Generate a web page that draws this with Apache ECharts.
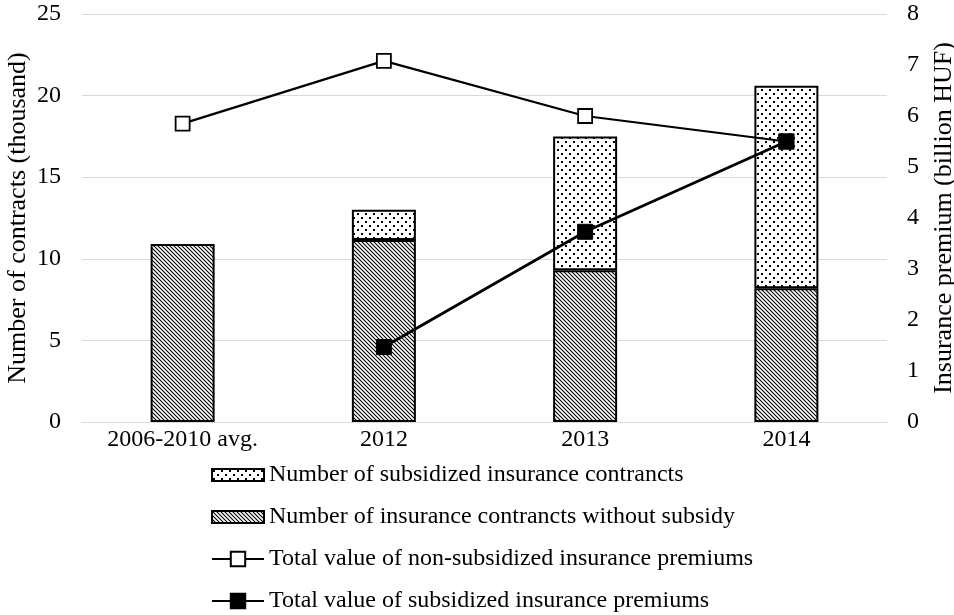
<!DOCTYPE html>
<html>
<head>
<meta charset="utf-8">
<script src="https://cdn.jsdelivr.net/npm/echarts@6/dist/echarts.min.js"></script>
<style>
  html, body { margin: 0; padding: 0; background: #fff; }
  #chart { width: 954px; height: 615px; }
</style>
</head>
<body>
<div id="chart"></div>
<script>
// Categories and values
var categories = ['2006-2010 avg.', '2012', '2013', '2014'];
var contractsWithoutSubsidy = [10.9, 11.15, 9.3, 8.2];
var contractsSubsidized = [0, 1.85, 8.2, 12.4];
var premiumNonSubsidized = [5.85, 7.08, 6.0, 5.5];
var premiumSubsidized = [null, 1.47, 3.73, 5.5];
var leftTicks = [0, 5, 10, 15, 20, 25];
var rightTicks = [0, 1, 2, 3, 4, 5, 6, 7, 8];

var seriesNames = [
  'Number of subsidized insurance contrancts',
  'Number of insurance contrancts without subsidy',
  'Total value of non-subsidized insurance premiums',
  'Total value of subsidized insurance premiums'
];

// Fill patterns: fine diagonal hatch and staggered dots
function hatchPattern() {
  var c = document.createElement('canvas');
  c.width = 4; c.height = 4;
  var g = c.getContext('2d');
  g.fillStyle = '#fff';
  g.fillRect(0, 0, 4, 4);
  g.strokeStyle = '#000';
  g.lineWidth = 1.1;
  g.beginPath();
  g.moveTo(-1, -1); g.lineTo(5, 5);
  g.moveTo(-5, -1); g.lineTo(1, 5);
  g.moveTo(3, -1); g.lineTo(9, 5);
  g.stroke();
  return c;
}
function dotPattern() {
  var c = document.createElement('canvas');
  c.width = 8; c.height = 8;
  var g = c.getContext('2d');
  g.fillStyle = '#fff';
  g.fillRect(0, 0, 8, 8);
  g.fillStyle = '#000';
  g.fillRect(1, 1, 2, 2);
  g.fillRect(5, 5, 2, 2);
  return c;
}
var hatchFill = { image: hatchPattern(), repeat: 'repeat' };
var dotFill = { image: dotPattern(), repeat: 'repeat' };

var font = 'Liberation Serif';
var legendText = { fontFamily: font, fontSize: 24, lineHeight: 24, color: '#000' };
var chart = echarts.init(document.getElementById('chart'), null, { renderer: 'canvas' });

chart.setOption({
  animation: false,
  backgroundColor: '#fff',
  textStyle: { fontFamily: font, color: '#000' },
  grid: { left: 82, right: 67, top: 14, bottom: 193, containLabel: false, outerBoundsMode: 'none' },
  legend: [
    {
      orient: 'vertical',
      left: 211,
      top: 463,
      padding: 0,
      itemGap: 18,
      itemWidth: 52,
      itemHeight: 12,
      textStyle: legendText,
      data: [
        { name: seriesNames[0], icon: 'rect' },
        { name: seriesNames[1], icon: 'rect' }
      ]
    },
    {
      orient: 'vertical',
      left: 211,
      top: 547,
      padding: 0,
      itemGap: 18,
      itemWidth: 52,
      itemHeight: 18,
      textStyle: legendText,
      data: [
        { name: seriesNames[2] },
        { name: seriesNames[3] }
      ]
    }
  ],
  xAxis: {
    type: 'category',
    data: categories,
    axisLine: { show: true, lineStyle: { color: '#d9d9d9', width: 1 } },
    axisTick: { show: false },
    axisLabel: { fontFamily: font, fontSize: 24, color: '#000', margin: 6 }
  },
  yAxis: [
    {
      type: 'value',
      min: 0, max: 25, interval: 5,
      name: 'Number of contracts (thousand)',
      nameLocation: 'middle',
      nameGap: 51,
      nameMoveOverlap: false,
      nameTextStyle: { fontFamily: font, fontSize: 26, color: '#000' },
      axisLabel: {
        fontFamily: font, fontSize: 24, color: '#000', margin: 21,
        formatter: function (v) { return leftTicks.indexOf(v) >= 0 ? String(v) : ''; }
      },
      axisLine: { show: false },
      axisTick: { show: false },
      splitLine: { lineStyle: { color: '#d9d9d9', width: 1 } }
    },
    {
      type: 'value',
      min: 0, max: 8, interval: 1,
      name: 'Insurance premium (billion HUF)',
      nameLocation: 'middle',
      nameGap: 44,
      nameRotate: 90,
      nameMoveOverlap: false,
      nameTextStyle: { fontFamily: font, fontSize: 26, color: '#000' },
      axisLabel: {
        fontFamily: font, fontSize: 24, color: '#000', margin: 20,
        formatter: function (v) { return rightTicks.indexOf(v) >= 0 ? String(v) : ''; }
      },
      axisLine: { show: false },
      axisTick: { show: false },
      splitLine: { show: false }
    }
  ],
  series: [
    {
      name: seriesNames[1],
      type: 'bar',
      stack: 'contracts',
      barWidth: 64,
      data: contractsWithoutSubsidy,
      itemStyle: { color: hatchFill, borderColor: '#000', borderWidth: 2 },
      z: 2
    },
    {
      name: seriesNames[0],
      type: 'bar',
      stack: 'contracts',
      barWidth: 64,
      data: contractsSubsidized.map(function (v) { return v === 0 ? null : v; }),
      itemStyle: { color: dotFill, borderColor: '#000', borderWidth: 2 },
      z: 2
    },
    {
      name: seriesNames[2],
      type: 'line',
      yAxisIndex: 1,
      data: premiumNonSubsidized,
      symbol: 'rect',
      symbolSize: 14,
      lineStyle: { color: '#000', width: 2.2 },
      itemStyle: { color: '#fff', borderColor: '#000', borderWidth: 1.8 },
      z: 5
    },
    {
      name: seriesNames[3],
      type: 'line',
      yAxisIndex: 1,
      data: premiumSubsidized,
      symbol: 'rect',
      symbolSize: 15,
      lineStyle: { color: '#000', width: 2.8 },
      itemStyle: { color: '#000', borderColor: '#000', borderWidth: 1 },
      z: 5
    }
  ]
});
</script>
</body>
</html>
